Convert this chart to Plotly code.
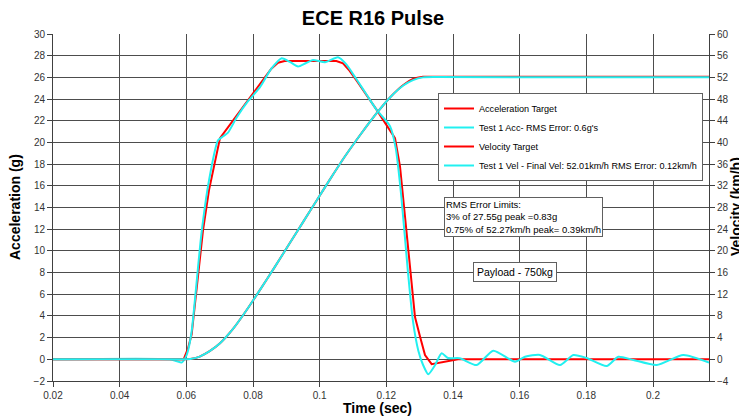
import plotly.graph_objects as go

# ---- data ----
acc_target_t = [0.02, 0.0592, 0.0605, 0.0616, 0.065, 0.0668, 0.0701, 0.0725, 0.0751, 0.0821, 0.0855,
                0.0875, 0.0895, 0.105, 0.107, 0.109, 0.1111, 0.1171, 0.1205, 0.1226, 0.1241, 0.1251,
                0.1271, 0.1286, 0.1301, 0.1316, 0.1336, 0.1375, 0.1415, 0.2168]
acc_target_g = [0, 0, 1.0, 2.3, 11.9, 15.6, 20.4, 21.4, 22.4, 25.3, 26.8,
                27.35, 27.5, 27.5, 27.3, 26.6, 25.7, 23.0, 21.4, 20.4, 17.8, 14.7,
                7.9, 3.9, 2.1, 0.4, -0.45, -0.2, 0.0, 0.0]

acc_test_t = [0.02, 0.055, 0.057, 0.0586, 0.0598, 0.0605, 0.0616, 0.0645, 0.0668, 0.0695, 0.0712,
              0.0725, 0.0751, 0.0785, 0.0821, 0.0855, 0.0886, 0.0912, 0.0935, 0.0958, 0.098, 0.1016,
              0.1055, 0.108, 0.1111, 0.1141, 0.1171, 0.1211, 0.1228, 0.1245, 0.1265, 0.128, 0.1296,
              0.131, 0.1326, 0.1345, 0.1366, 0.1385, 0.142, 0.1471, 0.1521, 0.1586, 0.1616, 0.1661,
              0.1721, 0.1761, 0.1801, 0.1861, 0.1896, 0.1941, 0.2011, 0.2091, 0.2168]
acc_test_g = [0, 0, -0.15, -0.3, 0.2, 0.8, 2.6, 11.5, 16.5, 20.2, 20.6,
              20.9, 22.3, 23.8, 25.1, 26.8, 27.77, 27.4, 27.0, 27.3, 27.6, 27.4,
              27.86, 27.2, 25.8, 24.4, 23.0, 21.5, 19.5, 15.0, 8.0, 3.5, 0.8,
              -0.5, -1.38, -0.6, 0.55, 0.12, 0.1, -0.53, 0.8, -0.22, 0.24, 0.4,
              -0.53, 0.4, 0.12, -0.62, 0.24, -0.06, -0.53, 0.4, -0.3]

vel_t = [0.02, 0.059, 0.0616, 0.064, 0.067, 0.0701, 0.074, 0.078, 0.0821, 0.0866, 0.0911, 0.0951,
         0.0991, 0.103, 0.107, 0.111, 0.1141, 0.1171, 0.1211, 0.1251, 0.128, 0.131, 0.135, 0.2168]
vel_target_kmh = [0, 0, 0.1, 0.5, 1.5, 2.95, 5.6, 9.0, 12.8, 17.1, 21.5, 25.4,
                  29.3, 33.1, 36.9, 40.4, 43.0, 45.4, 48.3, 50.6, 51.7, 52.1, 52.12, 52.12]
vel_test_kmh = [0, 0, 0.1, 0.5, 1.5, 2.95, 5.6, 9.0, 12.8, 17.1, 21.5, 25.4,
                29.3, 33.1, 36.9, 40.4, 43.0, 45.4, 48.3, 50.5, 51.5, 52.0, 52.05, 52.01]

x_ticks = [0.02, 0.04, 0.06, 0.08, 0.1, 0.12, 0.14, 0.16, 0.18, 0.2]

RED = "#ff0000"
CYAN = "#22f0f0"
FONT = "Liberation Sans, Arial, sans-serif"

fig = go.Figure()
fig.add_trace(go.Scatter(x=acc_target_t, y=acc_target_g, mode="lines", name="Acceleration Target",
                         line=dict(color=RED, width=2)))
fig.add_trace(go.Scatter(x=acc_test_t, y=acc_test_g, mode="lines", name="Test 1 Acc- RMS Error: 0.6g's",
                         line=dict(color=CYAN, width=2, shape="spline", smoothing=0.6)))
fig.add_trace(go.Scatter(x=vel_t, y=vel_target_kmh, mode="lines", name="Velocity Target",
                         line=dict(color=RED, width=2, shape="spline", smoothing=0.5), yaxis="y2"))
fig.add_trace(go.Scatter(x=vel_t, y=vel_test_kmh, mode="lines",
                         name="Test 1 Vel - Final Vel: 52.01km/h RMS Error: 0.12km/h",
                         line=dict(color=CYAN, width=2, shape="spline", smoothing=0.5), yaxis="y2"))

# page body has an 8px margin: the figure is drawn 8px in from the top-left of the window
OFF = 8
W, H = 747 - OFF, 417 - OFF
L, R, T, B = 53 - OFF, 38, 34 - OFF, 36
pw, ph = W - L - R, H - T - B
def px(x): return (x - OFF - L) / pw
def py(y): return (H - B - (y - OFF)) / ph

axis_common = dict(ticks="outside", ticklen=5, tickcolor="#404040", showline=True, linecolor="#404040",
                   linewidth=1, tickfont=dict(family=FONT, size=10, color="#333333"), zeroline=False,
                   automargin=False)

fig.update_layout(
    width=W, height=H,
    margin=dict(l=L, r=R, t=T, b=B, autoexpand=False),
    paper_bgcolor="white", plot_bgcolor="white",
    font=dict(family=FONT, color="#000000"),
    title=dict(text="<b>ECE R16 Pulse</b>", x=(373 - OFF) / W, xref="container", xanchor="center",
               y=1 - (18 - OFF) / H, yref="container", yanchor="middle",
               font=dict(family=FONT, size=20, color="#000000")),
    xaxis=dict(range=[0.02, 0.2168], tickvals=x_ticks, ticktext=[str(v) for v in x_ticks],
               showgrid=True, gridcolor="#4d4d4d", gridwidth=1, **axis_common),
    yaxis=dict(range=[-2, 30], dtick=2, tick0=0, showgrid=True, gridcolor="#4d4d4d", gridwidth=1,
               **axis_common),
    yaxis2=dict(range=[-4, 60], dtick=4, tick0=0, overlaying="y", side="right", anchor="x",
                showgrid=False, **axis_common),
    legend=dict(x=px(438), y=py(93), xanchor="left", yanchor="top", bgcolor="white",
                bordercolor="#606060", borderwidth=1, font=dict(family=FONT, size=9.1, color="#000000"),
                itemwidth=30),
    showlegend=True,
)

# axis titles
fig.add_annotation(xref="paper", yref="paper", x=px(15), y=py(207), xanchor="center", yanchor="middle",
                   text="<b>Acceleration (g)</b>", textangle=-90, showarrow=False,
                   font=dict(family=FONT, size=14, color="#000000"))
fig.add_annotation(xref="paper", yref="paper", x=px(736), y=py(207), xanchor="center", yanchor="middle",
                   text="<b>Velocity (km/h)</b>", textangle=-90, showarrow=False,
                   font=dict(family=FONT, size=14, color="#000000"))
fig.add_annotation(xref="paper", yref="paper", x=px(377), y=py(408), xanchor="center", yanchor="middle",
                   text="<b>Time (sec)</b>", showarrow=False,
                   font=dict(family=FONT, size=14, color="#000000"))

fig.add_annotation(xref="paper", yref="paper", x=px(444), y=py(197), xanchor="left", yanchor="top",
                   text="RMS Error Limits:<br>3% of 27.55g peak =0.83g<br>0.75% of 52.27km/h peak= 0.39km/h",
                   align="left", showarrow=False, bgcolor="white", bordercolor="#606060", borderwidth=1,
                   borderpad=1, font=dict(family=FONT, size=9.5, color="#000000"))
fig.add_annotation(xref="paper", yref="paper", x=px(473), y=py(272), xanchor="left", yanchor="middle",
                   text="Payload - 750kg", align="left", showarrow=False, bgcolor="white",
                   bordercolor="#606060", borderwidth=1, borderpad=3,
                   font=dict(family=FONT, size=10.5, color="#000000"))

fig.write_html("out.html")
